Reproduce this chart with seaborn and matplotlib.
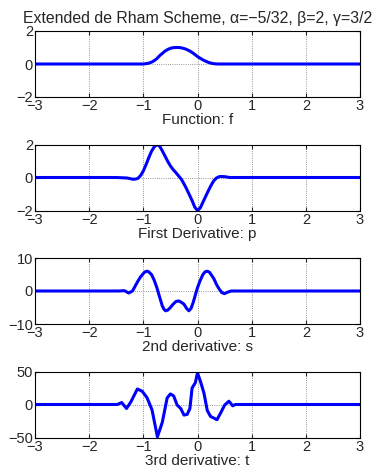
import matplotlib
matplotlib.use("Agg")
import matplotlib.pyplot as plt
import seaborn as sns
import numpy as np
import pandas as pd

# values
f_x = [-3, -1.0, -0.95, -0.9, -0.85, -0.8, -0.75, -0.7, -0.65, -0.6, -0.55, -0.5, -0.45, -0.4,
       -0.35, -0.3, -0.25, -0.2, -0.15, -0.1, -0.05, 0.0, 0.05, 0.1, 0.15, 0.2, 0.25, 0.3, 0.35, 0.4, 3]
f_y = [0, 0, 0.02, 0.05, 0.11, 0.2, 0.33, 0.5, 0.64, 0.78, 0.88, 0.95, 0.99, 1.0,
       1.0, 0.98, 0.94, 0.88, 0.8, 0.7, 0.58, 0.45, 0.35, 0.25, 0.17, 0.1, 0.05, 0.02, 0.005, 0, 0]

p_x = [-3, -1.5, -1.3, -1.2, -1.15, -1.1, -1.05, -1.0, -0.95, -0.9, -0.85, -0.8, -0.75, -0.7,
       -0.65, -0.6, -0.55, -0.5, -0.45, -0.4, -0.35, -0.3, -0.25, -0.2, -0.15, -0.1, -0.05,
       0.0, 0.05, 0.1, 0.15, 0.2, 0.25, 0.3, 0.35, 0.4, 0.45, 0.5, 0.6, 3]
p_y = [0, 0, -0.03, -0.1, -0.1, -0.05, 0.12, 0.4, 0.78, 1.2, 1.58, 1.85, 2.0, 1.9,
       1.62, 1.3, 0.98, 0.7, 0.48, 0.3, 0.1, -0.1, -0.38, -0.7, -1.05, -1.4, -1.8,
       -2.0, -1.85, -1.5, -1.15, -0.8, -0.48, -0.2, -0.03, 0.05, 0.06, 0.05, 0.0, 0]

s_x = [-3, -1.45, -1.35, -1.27, -1.2, -1.15, -1.1, -1.05, -1.0, -0.97, -0.93, -0.9, -0.85,
       -0.8, -0.75, -0.7, -0.65, -0.62, -0.59, -0.55, -0.5, -0.45, -0.4, -0.35, -0.3, -0.25,
       -0.2, -0.16, -0.12, -0.08, -0.04, 0.0, 0.05, 0.1, 0.14, 0.18, 0.22, 0.25, 0.3, 0.35,
       0.4, 0.45, 0.5, 0.55, 0.62, 3]
s_y = [0, 0, 0.1, -0.6, 0.0, 1.5, 3.0, 4.3, 5.3, 5.8, 6.0, 5.8, 5.0,
       3.3, 1.0, -1.8, -4.5, -5.5, -6.0, -5.8, -5.0, -4.0, -3.2, -3.0, -3.4, -4.0,
       -5.3, -6.0, -5.3, -3.5, -1.2, 1.0, 3.2, 5.0, 5.8, 6.0, 5.7, 5.0, 3.8, 2.0,
       0.6, -0.5, -0.8, -0.4, 0.0, 0]

t_x = [-3, -1.48, -1.40, -1.31, -1.23, -1.11, -1.02, -0.93, -0.84, -0.74, -0.65, -0.56,
       -0.50, -0.44, -0.375, -0.31, -0.25, -0.19, -0.14, -0.10, -0.04, 0.0, 0.055, 0.12,
       0.18, 0.24, 0.36, 0.42, 0.50, 0.58, 0.65, 0.70, 3]
t_y = [0, 0, 3, -6, 4, 23.5, 20, 10, -8, -49, -27, 10,
       16, 13, -1, -6, -16, -15, -6, 25, 33, 48, 35, 17,
       -9, -18, -23, -14, -1, 5, -2, 0, 0]

panels = [
    (f_x, f_y, 2, "Function: f"),
    (p_x, p_y, 2, "First Derivative: p"),
    (s_x, s_y, 10, "2nd derivative: s"),
    (t_x, t_y, 50, "3rd derivative: t"),
]

sns.set_style("ticks")
plt.rcParams['font.family'] = ['Liberation Sans', 'DejaVu Sans']
plt.rcParams['axes.unicode_minus'] = True

fig = plt.figure(figsize=(3.75, 4.72), dpi=100)
W, H = 375, 472
left, right = 35, 360
tops = [31, 144.5, 258, 371.5]
height = 66

for i, (xs, ys, lim, label) in enumerate(panels):
    ax = fig.add_axes([left / W, 1 - (tops[i] + height) / H, (right - left) / W, height / H])
    df = pd.DataFrame({"x": xs, "y": ys})
    sns.lineplot(data=df, x="x", y="y", ax=ax, color=(0, 0, 1), linewidth=2.2, sort=False)
    ax.set_xlim(-3, 3)
    ax.set_ylim(-lim, lim)
    ax.set_xticks(np.arange(-3, 4, 1))
    ax.set_yticks([-lim, 0, lim])
    ax.grid(True, linestyle=':', color='0.45', linewidth=0.6)
    ax.tick_params(direction='in', length=3, labelsize=10.5, pad=1.5, top=True, right=True)
    for sp in ax.spines.values():
        sp.set_linewidth(0.8)
        sp.set_color('k')
    ax.set_xlabel(label, fontsize=11, labelpad=0)
    ax.set_ylabel("")
    if i == 0:
        ax.set_title("Extended de Rham Scheme, α=\u22125/32, β=2, γ=3/2", fontsize=11.4, pad=6)

fig.savefig("out.png", dpi=100)
